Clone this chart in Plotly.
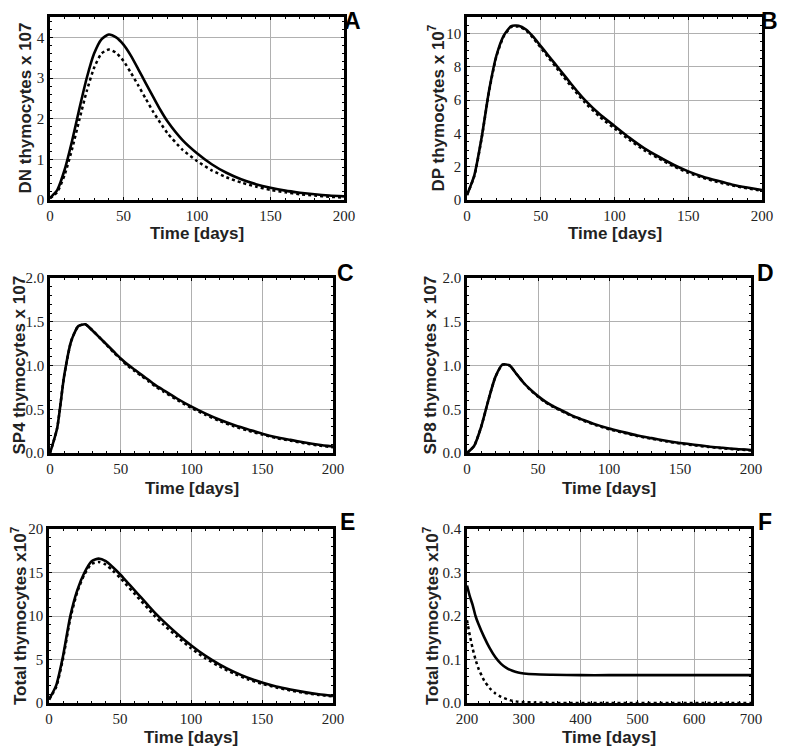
import plotly.graph_objects as go

# time grid for panels A-E (days)
t_days = [0, 5, 10, 15, 20, 25, 30, 35, 40, 45, 50, 55, 60, 65, 70, 75, 80,
          90, 100, 110, 120, 130, 140, 150, 160, 170, 180, 190, 200]

dn_solid = [0.05, 0.25, 0.75, 1.45, 2.25, 3.0, 3.6, 3.95, 4.07, 4.0, 3.82, 3.55, 3.22, 2.88,
            2.55, 2.22, 1.93, 1.48, 1.15, 0.88, 0.67, 0.51, 0.39, 0.3, 0.23, 0.18, 0.14, 0.11, 0.09]
dn_dotted = [0.04, 0.2, 0.62, 1.25, 1.98, 2.68, 3.25, 3.6, 3.7, 3.62, 3.42, 3.13, 2.82, 2.5,
             2.18, 1.9, 1.64, 1.24, 0.96, 0.73, 0.56, 0.43, 0.33, 0.25, 0.19, 0.14, 0.11, 0.08, 0.06]

dp_solid = [0.3, 1.5, 3.8, 6.6, 8.7, 9.9, 10.45, 10.48, 10.25, 9.8, 9.25, 8.7, 8.15, 7.6,
            7.05, 6.5, 6.0, 5.15, 4.45, 3.75, 3.12, 2.6, 2.12, 1.72, 1.4, 1.15, 0.92, 0.75, 0.6]
dp_dotted = [0.3, 1.45, 3.75, 6.55, 8.65, 9.85, 10.4, 10.42, 10.2, 9.72, 9.15, 8.58, 8.02, 7.45,
             6.9, 6.36, 5.85, 5.0, 4.3, 3.62, 3.0, 2.5, 2.03, 1.64, 1.33, 1.08, 0.87, 0.7, 0.55]

sp4_solid = [0.0, 0.28, 0.88, 1.28, 1.45, 1.47, 1.4, 1.32, 1.24, 1.16, 1.08, 1.01, 0.95, 0.89,
             0.83, 0.77, 0.72, 0.62, 0.53, 0.45, 0.38, 0.32, 0.27, 0.22, 0.18, 0.15, 0.12, 0.095, 0.075]
sp4_dotted = [0.0, 0.28, 0.88, 1.28, 1.45, 1.47, 1.4, 1.32, 1.235, 1.15, 1.07, 0.995, 0.935, 0.875,
              0.815, 0.755, 0.705, 0.605, 0.515, 0.435, 0.365, 0.305, 0.255, 0.21, 0.17, 0.14, 0.11, 0.085, 0.065]

sp8_solid = [0.0, 0.08, 0.3, 0.6, 0.87, 1.01, 1.0, 0.9, 0.8, 0.72, 0.65, 0.59, 0.54, 0.5,
             0.46, 0.42, 0.39, 0.33, 0.28, 0.24, 0.2, 0.17, 0.14, 0.115, 0.095, 0.075, 0.06, 0.045, 0.035]
sp8_dotted = [0.0, 0.08, 0.3, 0.6, 0.87, 1.01, 1.0, 0.9, 0.8, 0.715, 0.645, 0.583, 0.533, 0.492,
              0.452, 0.412, 0.382, 0.322, 0.272, 0.232, 0.193, 0.163, 0.133, 0.108, 0.088, 0.069, 0.054, 0.04, 0.03]

total_solid = [0.4, 2.0, 5.5, 10.0, 13.0, 15.0, 16.3, 16.6, 16.3, 15.6, 14.8, 13.9, 13.0, 12.1,
               11.2, 10.3, 9.5, 8.0, 6.65, 5.45, 4.45, 3.6, 2.9, 2.35, 1.9, 1.55, 1.25, 1.0, 0.82]
total_dotted = [0.4, 1.8, 5.2, 9.7, 12.8, 14.8, 16.0, 16.2, 15.9, 15.2, 14.4, 13.5, 12.6, 11.7,
                10.8, 9.9, 9.1, 7.65, 6.3, 5.15, 4.2, 3.4, 2.72, 2.2, 1.78, 1.44, 1.16, 0.93, 0.75]

# late phase, panel F
t_late = [200, 205, 210, 215, 220, 230, 240, 250, 260, 270, 280, 290, 300, 320, 350,
          400, 450, 500, 550, 600, 650, 700]
late_solid = [0.27, 0.245, 0.225, 0.2, 0.182, 0.152, 0.126, 0.105, 0.09, 0.08, 0.074, 0.07, 0.068,
              0.066, 0.065, 0.064, 0.064, 0.064, 0.064, 0.064, 0.064, 0.064]
late_dotted = [0.19, 0.155, 0.125, 0.1, 0.08, 0.052, 0.034, 0.022, 0.014, 0.009, 0.005, 0.003, 0.002,
               0.001, 0.0, 0.0, 0.0, 0.0, 0.0, 0.0, 0.0, 0.0]

panels = [
    # letter, x, solid, dotted, y title, y range, y dtick, x range, x dtick
    ("A", t_days, dn_solid, dn_dotted, "DN thymocytes x 107", [0, 4.5], 1, [0, 200], 50),
    ("B", t_days, dp_solid, dp_dotted, "DP thymocytes x 10<sup>7</sup>", [0, 11], 2, [0, 200], 50),
    ("C", t_days, sp4_solid, sp4_dotted, "SP4 thymocytes x 107", [0, 2], 0.5, [0, 200], 50),
    ("D", t_days, sp8_solid, sp8_dotted, "SP8 thymocytes x 107", [0, 2], 0.5, [0, 200], 50),
    ("E", t_days, total_solid, total_dotted, "Total thymocytes x10<sup>7</sup>", [0, 20], 5, [0, 200], 50),
    ("F", t_late, late_solid, late_dotted, "Total thymocytes x10<sup>7</sup>", [0, 0.4], 0.1, [200, 700], 100),
]

# page body has an 8px margin, so the figure starts at (8, 8)
OFF = 8
W, H = 787 - 2 * OFF, 754 - 2 * OFF


def px_x(p):
    return (p - OFF) / W


def px_y(p):
    return 1 - (p - OFF) / H


# plot areas in window pixels: (left, right, top, bottom)
boxes = [
    (50, 344, 17, 200), (467, 762, 17, 200),
    (50, 333, 278, 453), (467, 751, 278, 453),
    (49, 333, 529, 703), (467, 751, 529, 703),
]
# positions of y titles (x px), x titles (y px) and letters (x, y px)
ytitle_x = [25, 436, 19, 430, 19, 431]
xtitle_y = [233, 233, 488, 488, 737, 737]
letters_xy = [(352, 21), (769, 21), (345, 273), (765, 273), (347, 522), (765, 522)]

fig = go.Figure()
annotations = []
sans = "Liberation Sans"
serif = "Liberation Serif"

for i, (letter, t, solid, dotted, ytitle, yrng, ydt, xrng, xdt) in enumerate(panels):
    n = "" if i == 0 else str(i + 1)
    xa, ya = "x" + n, "y" + n
    fig.add_trace(go.Scatter(x=t, y=dotted, mode="lines", xaxis=xa, yaxis=ya,
                             line=dict(color="black", width=2.5, dash="dot", shape="spline", smoothing=0.6),
                             showlegend=False))
    fig.add_trace(go.Scatter(x=t, y=solid, mode="lines", xaxis=xa, yaxis=ya,
                             line=dict(color="black", width=2.6, shape="spline", smoothing=0.6),
                             showlegend=False))
    l, r, top, bot = boxes[i]
    common = dict(showline=True, linecolor="black", linewidth=2.5, mirror="allticks",
                  ticks="inside", ticklen=3, tickcolor="black", tickwidth=1,
                  showgrid=True, gridcolor="#b0b0b0", gridwidth=1, zeroline=False,
                  tickfont=dict(family=serif, size=15, color="#222"),
                  automargin=False)
    minor = dict(ticks="inside", ticklen=2, tickcolor="black", nticks=5, showgrid=False)
    fig.layout["xaxis" + n] = dict(domain=[px_x(l), px_x(r)], anchor=ya, range=xrng, dtick=xdt,
                                   tick0=xrng[0], minor=minor, **common)
    fig.layout["yaxis" + n] = dict(domain=[px_y(bot), px_y(top)], anchor=xa, range=yrng, dtick=ydt,
                                   tickformat=".1f" if ydt < 1 else "d", minor=minor, **common)
    annotations.append(dict(text=ytitle, x=px_x(ytitle_x[i]), y=px_y((top + bot) / 2),
                            xref="paper", yref="paper", showarrow=False, textangle=-90,
                            xanchor="center", yanchor="middle",
                            font=dict(family=sans, size=17, color="#222", weight="bold")))
    annotations.append(dict(text="Time [days]", x=px_x((l + r) / 2), y=px_y(xtitle_y[i]),
                            xref="paper", yref="paper", showarrow=False,
                            xanchor="center", yanchor="middle",
                            font=dict(family=sans, size=17, color="#222", weight="bold")))
    lx, ly = letters_xy[i]
    annotations.append(dict(text=letter, x=px_x(lx), y=px_y(ly), xref="paper", yref="paper",
                            showarrow=False, xanchor="center", yanchor="middle",
                            font=dict(family=sans, size=23, color="black", weight="bold")))

fig.update_layout(
    width=W, height=H,
    margin=dict(l=0, r=0, t=0, b=0),
    plot_bgcolor="white", paper_bgcolor="white",
    annotations=annotations,
    showlegend=False,
)

fig.write_html("out.html")
